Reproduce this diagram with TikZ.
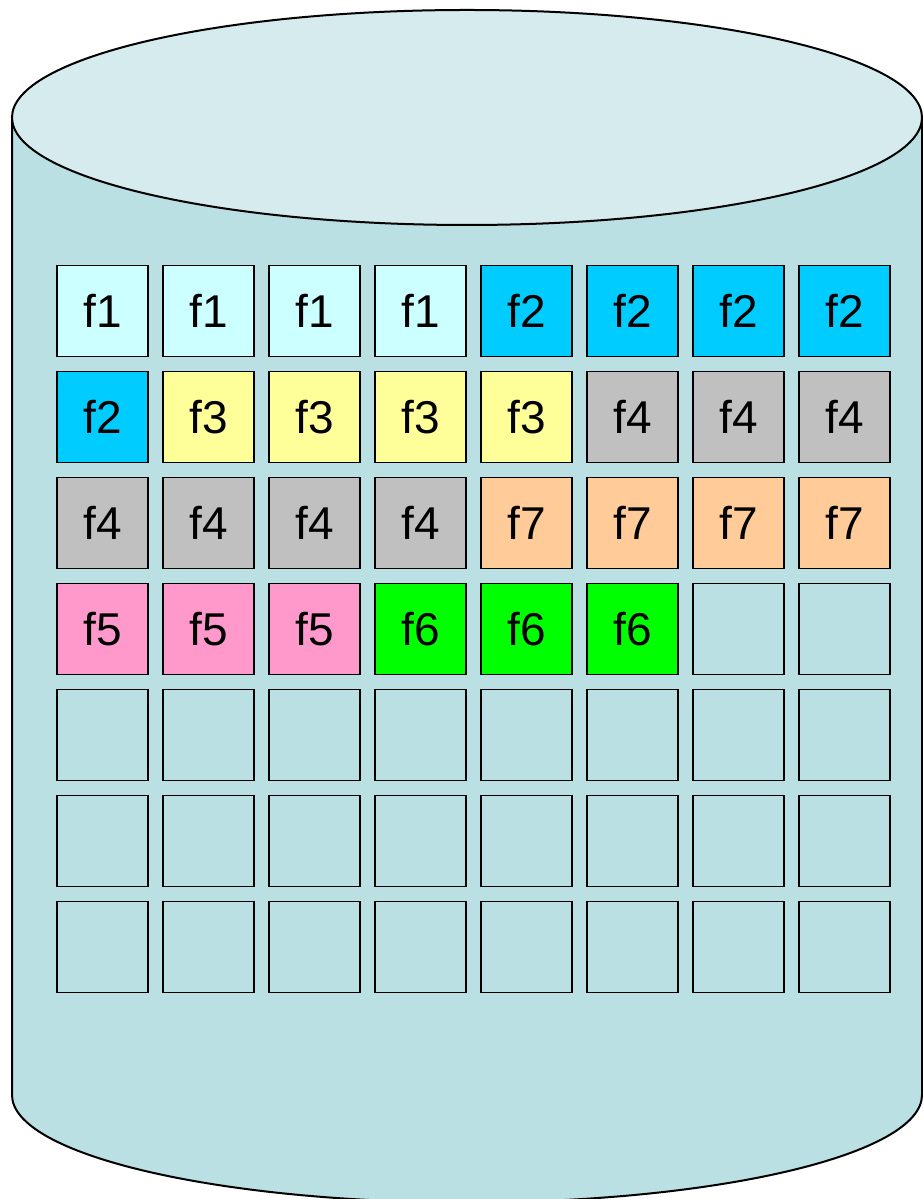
\documentclass[tikz,border=0pt]{standalone}
\usepackage{fontspec}
\setmainfont{Liberation Sans}
\definecolor{body}{RGB}{186,224,227}
\definecolor{topc}{RGB}{214,235,238}
\definecolor{cf1}{RGB}{204,255,255}
\definecolor{cf2}{RGB}{0,204,255}
\definecolor{cf3}{RGB}{255,255,153}
\definecolor{cf4}{RGB}{192,192,192}
\definecolor{cf5}{RGB}{255,153,204}
\definecolor{cf6}{RGB}{0,255,0}
\definecolor{cf7}{RGB}{255,204,153}
\begin{document}
\begin{tikzpicture}[x=1pt,y=1pt,
  blk/.style={draw=black,line width=1.4pt,minimum size=91pt,inner sep=0pt,font=\fontsize{46}{54}\selectfont},
  cyl/.style={draw=black,line width=2pt}]
\useasboundingbox (0,0) rectangle (922,1199);
\path[cyl,fill=body] (12,1081.5) -- (12,104) arc[start angle=180,end angle=360,x radius=455,y radius=107.5] -- (922,1081.5) -- cycle;
\path[cyl,fill=topc] (467,1081.5) ellipse[x radius=455,y radius=107.5];
\foreach \r/\row in {0/{cf1/f1,cf1/f1,cf1/f1,cf1/f1,cf2/f2,cf2/f2,cf2/f2,cf2/f2},
                    1/{cf2/f2,cf3/f3,cf3/f3,cf3/f3,cf3/f3,cf4/f4,cf4/f4,cf4/f4},
                    2/{cf4/f4,cf4/f4,cf4/f4,cf4/f4,cf7/f7,cf7/f7,cf7/f7,cf7/f7},
                    3/{cf5/f5,cf5/f5,cf5/f5,cf6/f6,cf6/f6,cf6/f6,body/{},body/{}},
                    4/{body/{},body/{},body/{},body/{},body/{},body/{},body/{},body/{}},
                    5/{body/{},body/{},body/{},body/{},body/{},body/{},body/{},body/{}},
                    6/{body/{},body/{},body/{},body/{},body/{},body/{},body/{},body/{}}}{
  \foreach \c/\t [count=\i from 0] in \row {
    \node[blk,fill=\c] (b\r-\i) at ({102.5+106*\i},{888-106*\r}) {\t};
  }
}
\end{tikzpicture}
\end{document}
